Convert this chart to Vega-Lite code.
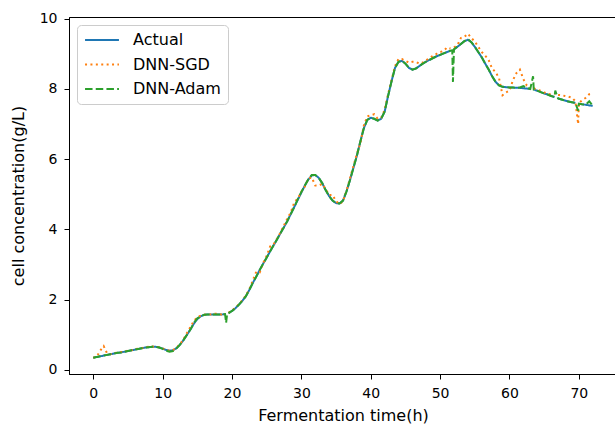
{
  "$schema": "https://vega.github.io/schema/vega-lite/v6.json",
  "autosize": {"type": "none"},
  "padding": {"left": 69, "top": 17, "right": -2, "bottom": 54},
  "width": 548,
  "height": 357,
  "background": "white",
  "config": {
    "view": {"stroke": "black", "strokeWidth": 1},
    "font": "DejaVu Sans",
    "axis": {
      "grid": false,
      "labelFont": "DejaVu Sans",
      "titleFont": "DejaVu Sans",
      "labelFontSize": 14,
      "titleFontSize": 16,
      "titleFontWeight": "normal",
      "labelColor": "black",
      "titleColor": "black",
      "domainColor": "black",
      "tickColor": "black",
      "tickSize": 5,
      "domainWidth": 1,
      "tickWidth": 1
    }
  },
  "data": {"values": [
    {"t":0,"a":0.35,"s":0.35,"d":0.35},
    {"t":0.5,"a":0.37,"s":0.38,"d":0.37},
    {"t":1,"a":0.39,"s":0.55,"d":0.39},
    {"t":1.5,"a":0.41,"s":0.68,"d":0.41},
    {"t":2,"a":0.43,"s":0.47,"d":0.43},
    {"t":2.5,"a":0.45,"s":0.45,"d":0.45},
    {"t":3,"a":0.47,"s":0.48,"d":0.47},
    {"t":3.5,"a":0.49,"s":0.49,"d":0.49},
    {"t":4,"a":0.50,"s":0.51,"d":0.50},
    {"t":4.5,"a":0.52,"s":0.52,"d":0.52},
    {"t":5,"a":0.54,"s":0.55,"d":0.54},
    {"t":5.5,"a":0.56,"s":0.56,"d":0.56},
    {"t":6,"a":0.58,"s":0.59,"d":0.58},
    {"t":6.5,"a":0.60,"s":0.61,"d":0.60},
    {"t":7,"a":0.62,"s":0.62,"d":0.62},
    {"t":7.5,"a":0.64,"s":0.65,"d":0.64},
    {"t":8,"a":0.65,"s":0.66,"d":0.65},
    {"t":8.5,"a":0.66,"s":0.67,"d":0.66},
    {"t":9,"a":0.66,"s":0.66,"d":0.66},
    {"t":9.5,"a":0.64,"s":0.65,"d":0.64},
    {"t":10,"a":0.61,"s":0.61,"d":0.60},
    {"t":10.5,"a":0.57,"s":0.58,"d":0.55},
    {"t":11,"a":0.55,"s":0.55,"d":0.52},
    {"t":11.5,"a":0.56,"s":0.57,"d":0.54},
    {"t":12,"a":0.62,"s":0.63,"d":0.62},
    {"t":12.5,"a":0.72,"s":0.74,"d":0.72},
    {"t":13,"a":0.85,"s":0.87,"d":0.85},
    {"t":13.5,"a":1.00,"s":1.05,"d":1.00},
    {"t":14,"a":1.15,"s":1.22,"d":1.15},
    {"t":14.5,"a":1.32,"s":1.40,"d":1.34},
    {"t":15,"a":1.45,"s":1.50,"d":1.47},
    {"t":15.5,"a":1.53,"s":1.55,"d":1.53},
    {"t":16,"a":1.57,"s":1.57,"d":1.57},
    {"t":16.5,"a":1.58,"s":1.59,"d":1.58},
    {"t":17,"a":1.58,"s":1.58,"d":1.58},
    {"t":17.5,"a":1.58,"s":1.60,"d":1.58},
    {"t":18,"a":1.58,"s":1.60,"d":1.58},
    {"t":18.5,"a":1.58,"s":1.58,"d":1.58},
    {"t":19,"a":1.59,"s":1.62,"d":1.59},
    {"t":19.15,"d":1.34},
    {"t":19.3,"d":1.61},
    {"t":19.5,"a":1.62,"s":1.63,"d":1.62},
    {"t":20,"a":1.68,"s":1.70,"d":1.68},
    {"t":20.5,"a":1.76,"s":1.77,"d":1.76},
    {"t":21,"a":1.86,"s":1.87,"d":1.86},
    {"t":21.5,"a":1.97,"s":1.99,"d":1.97},
    {"t":22,"a":2.10,"s":2.12,"d":2.10},
    {"t":22.5,"a":2.28,"s":2.30,"d":2.28},
    {"t":23,"a":2.48,"s":2.55,"d":2.48},
    {"t":23.5,"a":2.66,"s":2.80,"d":2.66},
    {"t":24,"a":2.85,"s":2.78,"d":2.85},
    {"t":24.5,"a":3.03,"s":3.05,"d":3.03},
    {"t":25,"a":3.20,"s":3.25,"d":3.20},
    {"t":25.5,"a":3.38,"s":3.52,"d":3.38},
    {"t":26,"a":3.55,"s":3.58,"d":3.55},
    {"t":26.5,"a":3.72,"s":3.74,"d":3.72},
    {"t":27,"a":3.90,"s":3.92,"d":3.90},
    {"t":27.5,"a":4.07,"s":4.12,"d":4.07},
    {"t":28,"a":4.25,"s":4.32,"d":4.25},
    {"t":28.5,"a":4.45,"s":4.50,"d":4.45},
    {"t":29,"a":4.65,"s":4.78,"d":4.65},
    {"t":29.5,"a":4.85,"s":4.88,"d":4.87},
    {"t":30,"a":5.05,"s":5.08,"d":5.07},
    {"t":30.5,"a":5.25,"s":5.22,"d":5.25},
    {"t":31,"a":5.42,"s":5.45,"d":5.43},
    {"t":31.5,"a":5.54,"s":5.48,"d":5.55},
    {"t":32,"a":5.55,"s":5.25,"d":5.55},
    {"t":32.5,"a":5.47,"s":5.25,"d":5.47},
    {"t":33,"a":5.32,"s":5.30,"d":5.32},
    {"t":33.5,"a":5.12,"s":5.15,"d":5.12},
    {"t":34,"a":4.95,"s":4.98,"d":4.95},
    {"t":34.5,"a":4.82,"s":4.98,"d":4.82},
    {"t":35,"a":4.75,"s":4.80,"d":4.75},
    {"t":35.5,"a":4.74,"s":4.72,"d":4.74},
    {"t":36,"a":4.82,"s":4.80,"d":4.82},
    {"t":36.5,"a":5.08,"s":5.10,"d":5.08},
    {"t":37,"a":5.40,"s":5.45,"d":5.40},
    {"t":37.5,"a":5.75,"s":5.80,"d":5.75},
    {"t":38,"a":6.10,"s":6.15,"d":6.10},
    {"t":38.5,"a":6.50,"s":6.45,"d":6.50},
    {"t":39,"a":6.88,"s":6.95,"d":6.88},
    {"t":39.5,"a":7.12,"s":7.22,"d":7.12},
    {"t":40,"a":7.18,"s":7.25,"d":7.18},
    {"t":40.5,"a":7.15,"s":7.28,"d":7.15},
    {"t":41,"a":7.10,"s":7.15,"d":7.10},
    {"t":41.5,"a":7.15,"s":7.18,"d":7.15},
    {"t":42,"a":7.35,"s":7.40,"d":7.35},
    {"t":42.5,"a":7.80,"s":7.85,"d":7.80},
    {"t":43,"a":8.22,"s":8.25,"d":8.22},
    {"t":43.5,"a":8.60,"s":8.65,"d":8.60},
    {"t":44,"a":8.77,"s":8.85,"d":8.77},
    {"t":44.5,"a":8.80,"s":8.85,"d":8.80},
    {"t":45,"a":8.72,"s":8.80,"d":8.72},
    {"t":45.5,"a":8.60,"s":8.75,"d":8.60},
    {"t":46,"a":8.55,"s":8.77,"d":8.55},
    {"t":46.5,"a":8.58,"s":8.77,"d":8.58},
    {"t":47,"a":8.65,"s":8.72,"d":8.65},
    {"t":47.5,"a":8.72,"s":8.75,"d":8.72},
    {"t":48,"a":8.78,"s":8.82,"d":8.78},
    {"t":48.5,"a":8.83,"s":8.88,"d":8.83},
    {"t":49,"a":8.88,"s":8.95,"d":8.88},
    {"t":49.5,"a":8.93,"s":9.00,"d":8.93},
    {"t":50,"a":8.97,"s":9.05,"d":8.97},
    {"t":50.5,"a":9.01,"s":9.08,"d":9.01},
    {"t":51,"a":9.05,"s":9.18,"d":9.05},
    {"t":51.5,"a":9.09,"s":9.15,"d":9.09},
    {"t":51.75,"d":9.10},
    {"t":51.85,"d":8.20},
    {"t":52,"a":9.13,"s":9.18,"d":9.13},
    {"t":52.5,"a":9.20,"s":9.25,"d":9.20},
    {"t":53,"a":9.28,"s":9.45,"d":9.28},
    {"t":53.5,"a":9.36,"s":9.48,"d":9.36},
    {"t":54,"a":9.40,"s":9.57,"d":9.42},
    {"t":54.5,"a":9.33,"s":9.45,"d":9.33},
    {"t":55,"a":9.20,"s":9.35,"d":9.20},
    {"t":55.5,"a":9.05,"s":9.20,"d":9.05},
    {"t":56,"a":8.90,"s":9.05,"d":8.90},
    {"t":56.5,"a":8.72,"s":8.95,"d":8.72},
    {"t":57,"a":8.55,"s":8.82,"d":8.55},
    {"t":57.5,"a":8.36,"s":8.58,"d":8.36},
    {"t":58,"a":8.20,"s":8.48,"d":8.20},
    {"t":58.5,"a":8.10,"s":8.30,"d":8.10},
    {"t":59,"a":8.06,"s":7.82,"d":8.06},
    {"t":59.5,"a":8.05,"s":7.90,"d":8.05},
    {"t":60,"a":8.04,"s":7.95,"d":8.04},
    {"t":60.5,"a":8.04,"s":8.25,"d":8.04},
    {"t":61,"a":8.03,"s":8.45,"d":8.03},
    {"t":61.5,"a":8.03,"s":8.55,"d":8.04},
    {"t":62,"a":8.02,"s":8.28,"d":8.08},
    {"t":62.5,"a":8.01,"s":8.10,"d":8.03},
    {"t":63,"a":8.00,"s":8.05,"d":8.00},
    {"t":63.4,"d":8.36},
    {"t":63.5,"a":7.98,"s":8.02,"d":7.98},
    {"t":64,"a":7.95,"s":7.97,"d":7.95},
    {"t":64.5,"a":7.91,"s":7.95,"d":7.91},
    {"t":65,"a":7.87,"s":7.90,"d":7.87},
    {"t":65.5,"a":7.84,"s":7.86,"d":7.84},
    {"t":66,"a":7.80,"s":7.84,"d":7.80},
    {"t":66.5,"a":7.77,"s":7.85,"d":7.77},
    {"t":66.6,"d":7.95},
    {"t":67,"a":7.73,"s":7.83,"d":7.73},
    {"t":67.5,"a":7.70,"s":7.82,"d":7.70},
    {"t":68,"a":7.67,"s":7.80,"d":7.67},
    {"t":68.5,"a":7.64,"s":7.78,"d":7.64},
    {"t":69,"a":7.62,"s":7.75,"d":7.62},
    {"t":69.5,"a":7.60,"s":7.65,"d":7.60},
    {"t":69.9,"s":7.00,"d":7.38},
    {"t":70,"a":7.58,"s":7.60,"d":7.58},
    {"t":70.5,"a":7.56,"s":7.68,"d":7.56},
    {"t":71,"a":7.55,"s":7.75,"d":7.55},
    {"t":71.5,"a":7.53,"s":7.85,"d":7.65},
    {"t":72,"a":7.52,"s":7.88,"d":7.52}
  ]},
  "encoding": {
    "x": {
      "field": "t", "type": "quantitative",
      "title": "Fermentation time(h)",
      "scale": {"domain": [-3.5, 75.5], "nice": false, "zero": false},
      "axis": {"values": [0,10,20,30,40,50,60,70], "labelPadding": 7, "titlePadding": 7}
    },
    "color": {
      "scale": {"domain": ["Actual","DNN-SGD","DNN-Adam"], "range": ["#1f77b4","#ff7f0e","#2ca02c"]},
      "legend": {
        "title": null,
        "orient": "none",
        "legendX": 8,
        "legendY": 8,
        "symbolType": "stroke",
        "symbolSize": 1150,
        "symbolStrokeWidth": 2,
        "clipHeight": 16,
        "labelFont": "DejaVu Sans",
        "labelFontSize": 16,
        "labelColor": "black",
        "labelOffset": 13,
        "rowPadding": 8.5,
        "padding": 7,
        "strokeColor": "#cccccc",
        "fillColor": "white",
        "cornerRadius": 4
      }
    },
    "strokeDash": {
      "scale": {"domain": ["Actual","DNN-SGD","DNN-Adam"], "range": [[1,0],[2,3.4],[7.5,3.2]]},
      "legend": null
    }
  },
  "layer": [
    {
      "mark": {"type": "line", "strokeWidth": 2},
      "encoding": {
        "y": {
          "field": "a", "type": "quantitative",
          "title": "cell concentration(g/L)",
          "scale": {"domain": [-0.114, 10.047], "nice": false, "zero": false},
          "axis": {"values": [0,2,4,6,8,10], "labelPadding": 7, "titlePadding": 13}
        },
        "color": {"datum": "Actual"},
        "strokeDash": {"datum": "Actual"}
      }
    },
    {
      "mark": {"type": "line", "strokeWidth": 2},
      "encoding": {
        "y": {"field": "s", "type": "quantitative"},
        "color": {"datum": "DNN-SGD"},
        "strokeDash": {"datum": "DNN-SGD"}
      }
    },
    {
      "mark": {"type": "line", "strokeWidth": 2},
      "encoding": {
        "y": {"field": "d", "type": "quantitative"},
        "color": {"datum": "DNN-Adam"},
        "strokeDash": {"datum": "DNN-Adam"}
      }
    }
  ]
}
